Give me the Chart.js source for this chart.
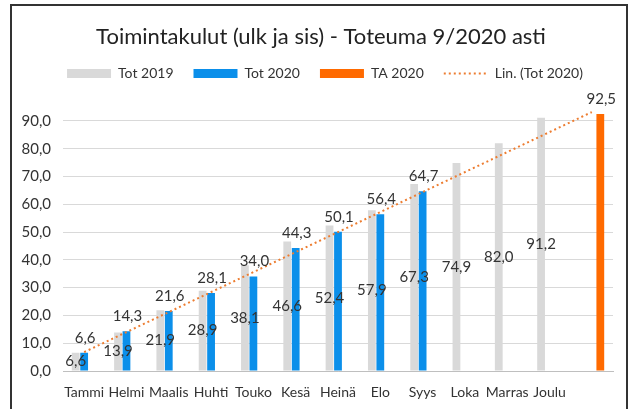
<!DOCTYPE html>
<html>
<head>
<meta charset="utf-8">
<script src="https://cdn.jsdelivr.net/npm/chart.js@4"></script>
<style>
  html, body { margin: 0; padding: 0; background: #fff; }
  #wrap { width: 633px; height: 409px; }
</style>
</head>
<body>
<div id="wrap"><canvas id="kulutChart"></canvas></div>
<script>
// --- Data ---
const months = ["Tammi", "Helmi", "Maalis", "Huhti", "Touko", "Kesä", "Heinä", "Elo", "Syys", "Loka", "Marras", "Joulu", ""];
const tot2019 = [6.6, 13.9, 21.9, 28.9, 38.1, 46.6, 52.4, 57.9, 67.3, 74.9, 82.0, 91.2, null];
const tot2020 = [6.6, 14.3, 21.6, 28.1, 34.0, 44.3, 50.1, 56.4, 64.7, null, null, null, null];
const ta2020 = [null, null, null, null, null, null, null, null, null, null, null, null, 92.5];
// trend line end points (first and last category)
const trend2020 = [6.8, null, null, null, null, null, null, null, null, null, null, null, 93.2];

const FONT = "Lato";
const fmt = v => v.toFixed(1).replace(".", ",");

// frame round the chart
const framePlugin = {
  id: "frame",
  beforeDraw(chart) {
    const ctx = chart.ctx;
    ctx.save();
    ctx.fillStyle = "#fff";
    ctx.fillRect(0, 0, chart.width, chart.height);
    ctx.strokeStyle = "#333";
    ctx.lineWidth = 2;
    ctx.strokeRect(11, 5, 616, 430);
    ctx.restore();
  }
};

// centre title and legend on the frame rather than the padded canvas
const nudgePlugin = {
  id: "nudge",
  afterLayout(chart) {
    if (chart.titleBlock) { chart.titleBlock.left += 8; chart.titleBlock.right += 8; }
    if (chart.legend) { chart.legend.left += 12; chart.legend.right += 12; }
  }
};

// value labels (no datalabels plugin available offline)
const labelPlugin = {
  id: "valueLabels",
  afterDatasetsDraw(chart) {
    const ctx = chart.ctx;
    ctx.save();
    ctx.font = "15px " + FONT;
    ctx.fillStyle = "#333";
    ctx.textAlign = "center";
    ctx.textBaseline = "middle";
    chart.data.datasets.forEach((ds, i) => {
      if (ds.type === "line") return;
      const meta = chart.getDatasetMeta(i);
      meta.data.forEach((bar, j) => {
        const v = ds.data[j];
        if (v == null) return;
        if (i === 0) {
          ctx.fillText(fmt(v), bar.x, (bar.y + bar.base) / 2);
        } else {
          ctx.fillText(fmt(v), bar.x + 1, bar.y - 15);
        }
      });
    });
    ctx.restore();
  }
};

new Chart(document.getElementById("kulutChart"), {
  type: "bar",
  data: {
    labels: months,
    datasets: [
      { label: "Tot 2019", data: tot2019, backgroundColor: "#D9D9D9", borderWidth: 0 },
      { label: "Tot 2020", data: tot2020, backgroundColor: "#0B8FEA", borderWidth: 0 },
      { label: "TA 2020", data: ta2020, backgroundColor: "#FF6A00", borderWidth: 0 },
      {
        type: "line",
        label: "Lin. (Tot 2020)",
        data: trend2020,
        spanGaps: true,
        borderColor: "#ED7D31",
        borderWidth: 2,
        borderDash: [2, 3],
        pointRadius: 0,
        order: -1
      }
    ]
  },
  options: {
    responsive: true,
    maintainAspectRatio: false,
    animation: false,
    datasets: {
      bar: { categoryPercentage: 0.6, barPercentage: 0.92 }
    },
    layout: { padding: { left: 13, right: 20, top: 0, bottom: 0 } },
    plugins: {
      title: {
        display: true,
        text: "Toimintakulut (ulk ja sis) - Toteuma 9/2020 asti",
        color: "#222",
        font: { family: FONT, size: 22, weight: "normal" },
        padding: { top: 24, bottom: -4 }
      },
      legend: {
        position: "top",
        labels: {
          color: "#333",
          font: { family: FONT, size: 14 },
          usePointStyle: true,
          pointStyleWidth: 44,
          boxHeight: 9,
          padding: 20,
          sort: (a, b) => a.datasetIndex - b.datasetIndex,
          generateLabels(chart) {
            const items = Chart.defaults.plugins.legend.labels.generateLabels(chart);
            items.forEach(it => {
              if (it.datasetIndex === 3) {
                it.pointStyle = "line";
                it.strokeStyle = "#ED7D31";
                it.lineWidth = 2;
                it.lineDash = [2, 3];
              } else {
                it.pointStyle = "rect";
                it.lineWidth = 0;
              }
            });
            return items;
          }
        }
      },
      tooltip: { enabled: false }
    },
    scales: {
      x: {
        grid: { display: false, drawTicks: false },
        border: { color: "#BFBFBF" },
        ticks: { color: "#333", font: { family: FONT, size: 14 }, padding: 13, maxRotation: 0, autoSkip: false },
        afterFit(scale) { scale.height = 38; }
      },
      y: {
        min: 0,
        max: 101,
        grid: { color: "#D9D9D9", drawTicks: false },
        border: { display: false },
        ticks: {
          stepSize: 10,
          includeBounds: false,
          color: "#333",
          font: { family: FONT, size: 15 },
          padding: 12,
          callback: v => fmt(v)
        },
        afterBuildTicks(scale) {
          scale.ticks = scale.ticks.filter(t => t.value % 10 === 0 && t.value <= 90);
        },
        afterFit(scale) { scale.width = 50; }
      }
    }
  },
  plugins: [framePlugin, nudgePlugin, labelPlugin]
});
</script>
</body>
</html>
